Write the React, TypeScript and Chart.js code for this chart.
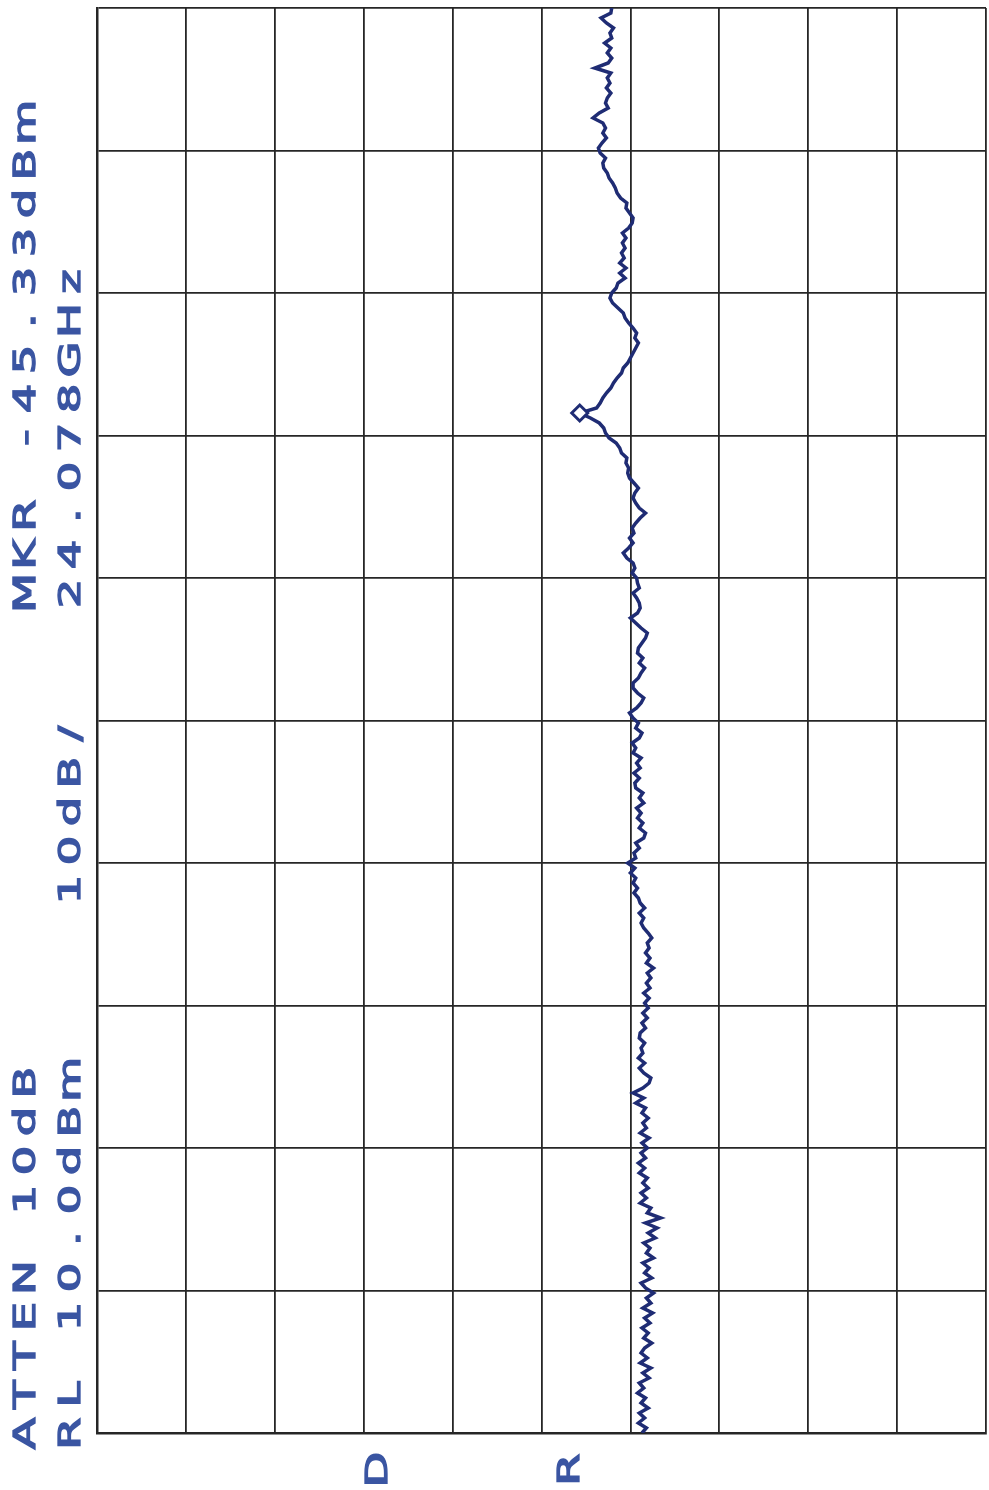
import React, { useEffect, useRef } from "react";
import { Chart, registerables } from "chart.js";

Chart.register(...registerables);

// Spectrum analyser plot (printed rotated): amplitude on the horizontal axis,
// frequency (trace point index) on the vertical axis, low frequency at the bottom.
const refLevelDbm = 10;
const dbPerDiv = 10;
const numDivs = 10;

// Trace amplitude in dBm, from the lowest frequency point (bottom) to the highest (top).
const traceDbm: number[] = [
  -51.3, -51.8, -50.9, -51.6, -51.0, -52.0, -51.2, -51.7, -50.8, -51.5,
  -51.0, -52.1, -51.4, -52.3, -51.1, -51.9, -51.2, -51.6, -52.4, -51.5,
  -52.0, -51.3, -52.2, -51.6, -52.5, -51.4, -52.3, -51.8, -52.6, -51.7,
  -51.2, -52.4, -51.6, -52.1, -51.4, -52.6, -51.8, -52.2, -51.5, -52.8,
  -52.0, -53.0, -51.7, -53.4, -51.9, -52.3, -51.1, -51.8, -51.2, -52.0,
  -51.4, -51.9, -51.0, -51.6, -50.9, -51.7, -51.2, -51.9, -51.3, -52.1,
  -51.1, -51.8, -51.4, -52.0, -51.3, -51.7, -50.6, -51.5, -50.3, -51.4,
  -52.1, -52.3, -51.5, -51.0, -51.6, -50.9, -51.4, -51.2, -51.6, -51.0,
  -51.1, -51.7, -51.3, -51.9, -51.4, -52.0, -51.6, -52.1, -51.5, -52.2,
  -51.8, -52.3, -51.9, -52.6, -51.8, -52.2, -51.7, -52.1, -51.9, -52.4,
  -52.0, -51.5, -51.2, -51.5, -51.0, -51.6, -51.1, -50.9, -50.4, -50.8,
  -50.3, -50.6, -50.0, -50.5, -49.7, -50.6, -50.4, -51.0, -50.6, -51.5,
  -51.7, -51.0, -51.4, -50.8, -51.2, -50.7, -51.5, -51.0, -51.4, -50.6,
  -50.5, -51.0, -50.4, -51.1, -50.7, -51.2, -50.3, -50.6, -50.2, -51.0,
  -51.3, -50.6, -50.9, -50.3, -49.9, -50.7, -51.2, -51.5, -50.8, -50.3,
  -50.3, -50.9, -51.2, -51.6, -51.0, -51.4, -50.8, -50.9, -51.3, -51.7,
  -51.9, -51.2, -50.6, -50.0, -50.8, -51.1, -51.0, -50.7, -50.3, -51.0,
  -50.8, -50.7, -50.2, -50.5, -50.3, -49.6, -49.2, -49.8, -50.3, -49.9,
  -50.4, -50.2, -50.6, -51.1, -51.7, -51.0, -50.6, -50.3, -50.5, -50.9,
  -50.4, -49.9, -49.7, -49.8, -49.5, -49.6, -49.0, -48.8, -48.4, -47.6,
  -47.2, -47.0, -46.5, -45.5, -44.3, -46.2, -46.6, -46.9, -47.3, -47.8,
  -48.1, -48.5, -49.0, -49.2, -49.7, -50.0, -50.3, -50.6, -50.9, -50.5,
  -50.7, -50.3, -49.8, -49.4, -49.2, -48.6, -48.0, -47.7, -47.9, -48.4,
  -48.6, -49.4, -48.8, -49.5, -48.8, -49.3, -49.0, -49.4, -49.1, -49.5,
  -49.1, -49.8, -50.2, -50.3, -49.9, -49.5, -49.6, -48.9, -48.5, -48.3,
  -48.0, -47.6, -47.4, -47.0, -46.9, -47.2, -46.6, -46.4, -46.8, -47.3,
  -46.9, -47.2, -46.9, -45.8, -46.5, -47.5, -47.2, -47.4, -47.8, -47.3,
  -47.7, -47.4, -47.8, -46.0, -47.5, -47.9, -47.4, -47.8, -47.1, -47.9,
  -47.7, -48.1, -47.3, -46.7, -47.8, -47.9,
];

// Marker sits on the trace peak.
const markerIndex = 204;

// Annotation texts (printed rotated, reading bottom to top)
const attenText = "ATTEN 10dB";
const markerAmpText = "MKR -45.33dBm";
const refLevelText = "RL 10.0dBm";
const scaleText = "10dB/";
const markerFreqText = "24.078GHz";
const footerTexts = ["D", "R"];

const TRACE = "#1f2c74";
const GRID = "#262626";
const TEXT = "#3a55a2";

const W = 989;
const H = 1490;

const SCALE_X = 1.55;
const CELL = 39; // character pitch along the text, in page pixels

function VText(props: { text: string; left: number; start: number }) {
  const cell = CELL / SCALE_X;
  return (
    <div
      style={{
        position: "absolute",
        left: props.left,
        top: props.start + 5,
        transformOrigin: "0 0",
        transform: `rotate(-90deg) scaleX(${SCALE_X})`,
        whiteSpace: "pre",
        fontFamily: '"DejaVu Sans", sans-serif',
        fontWeight: "normal",
        fontSize: 30,
        lineHeight: "30px",
        color: TEXT,
        WebkitTextStroke: `1.3px ${TEXT}`,
      }}
    >
      {Array.from(props.text).map((ch, i) => (
        <span key={i} style={{ display: "inline-block", width: cell, textAlign: "center" }}>
          {ch === " " ? "\u00a0" : ch}
        </span>
      ))}
    </div>
  );
}

export default function App() {
  const canvasRef = useRef<HTMLCanvasElement | null>(null);

  useEffect(() => {
    const canvas = canvasRef.current;
    if (!canvas) return;
    const points = traceDbm.map((v, i) => ({ x: v, y: i }));
    const chart = new Chart(canvas, {
      type: "scatter",
      data: {
        datasets: [
          {
            type: "line",
            data: points,
            borderColor: TRACE,
            borderWidth: 3.5,
            pointRadius: 0,
            tension: 0,
            order: 2,
          } as any,
          {
            data: [{ x: traceDbm[markerIndex], y: markerIndex }],
            pointStyle: "rectRot",
            pointRadius: 8,
            borderColor: TRACE,
            borderWidth: 3,
            backgroundColor: "#ffffff",
            order: 1,
          } as any,
        ],
      },
      options: {
        animation: false,
        responsive: false,
        maintainAspectRatio: false,
        layout: { autoPadding: false, padding: { left: 97, top: 8, right: 3, bottom: 57 } },
        plugins: { legend: { display: false }, tooltip: { enabled: false } },
        scales: {
          x: {
            type: "linear",
            min: refLevelDbm - dbPerDiv * numDivs,
            max: refLevelDbm,
            reverse: true,
            ticks: { display: false, count: numDivs + 1 },
            grid: { color: GRID, lineWidth: 1.8, drawTicks: false },
            border: { color: GRID, width: 2.5 },
          },
          y: {
            type: "linear",
            min: 0,
            max: traceDbm.length - 1,
            ticks: { display: false, count: numDivs + 1 },
            grid: { color: GRID, lineWidth: 1.8, drawTicks: false },
            border: { color: GRID, width: 2.5 },
          },
        },
      } as any,
    });
    return () => chart.destroy();
  }, []);

  return (
    <div style={{ position: "absolute", left: 0, top: 0, width: W, height: H, background: "#fff" }}>
      <canvas ref={canvasRef} width={W} height={H} style={{ width: W, height: H, display: "block" }} />
      <VText text={attenText} left={10} start={1448} />
      <VText text={markerAmpText} left={10} start={608} />
      <VText text={refLevelText} left={55} start={1448} />
      <VText text={scaleText} left={55} start={904} />
      <VText text={markerFreqText} left={55} start={608} />
      <VText text={footerTexts[0]} left={362} start={1484} />
      <VText text={footerTexts[1]} left={554} start={1484} />
    </div>
  );
}
